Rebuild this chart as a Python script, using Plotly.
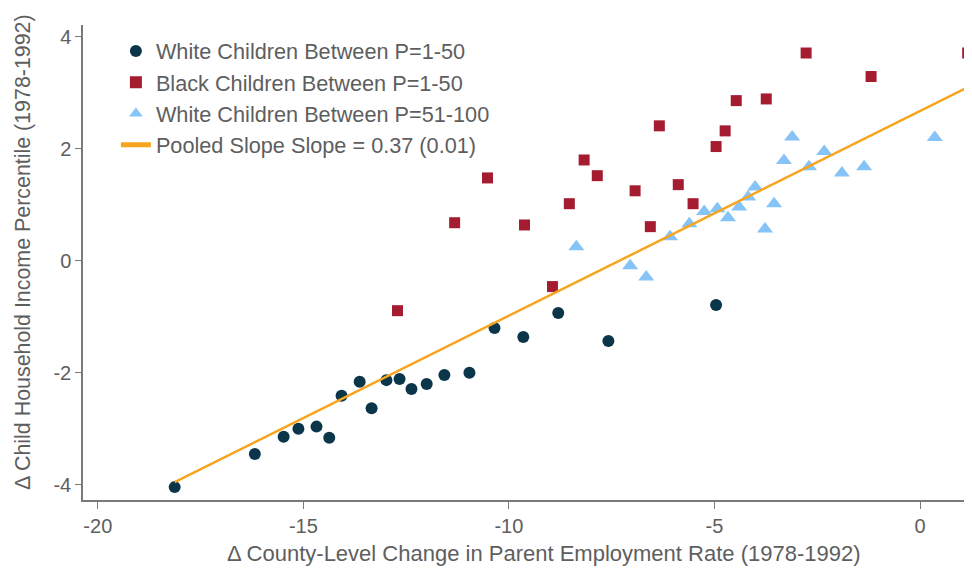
import plotly.graph_objects as go

# White children P=1-50
white_low_x = [-18.13, -16.18, -15.48, -15.12, -14.68, -14.37, -14.07, -13.63, -13.34, -12.98,
               -12.66, -12.37, -12.00, -11.57, -10.96, -10.35, -9.65, -8.80, -7.58, -4.96]
white_low_y = [-4.04, -3.45, -3.14, -3.00, -2.96, -3.16, -2.41, -2.16, -2.63, -2.13,
               -2.11, -2.29, -2.20, -2.04, -2.00, -1.20, -1.36, -0.93, -1.43, -0.79]

# Black children P=1-50
black_low_x = [-12.71, -11.32, -10.52, -9.62, -8.94, -8.53, -8.17, -7.85, -6.93, -6.56,
               -6.34, -5.88, -5.52, -4.96, -4.74, -4.47, -3.74, -2.77, -1.19, 1.16]
black_low_y = [-0.89, 0.68, 1.48, 0.64, -0.46, 1.02, 1.80, 1.52, 1.25, 0.61,
               2.41, 1.36, 1.02, 2.04, 2.32, 2.86, 2.89, 3.71, 3.29, 3.71]

# White children P=51-100
white_high_x = [-8.36, -7.05, -6.66, -6.08, -5.61, -5.25, -4.93, -4.67, -4.40, -4.18,
                -4.01, -3.77, -3.55, -3.31, -3.11, -2.70, -2.33, -1.90, -1.36, 0.36]
white_high_y = [0.25, -0.09, -0.29, 0.43, 0.66, 0.88, 0.93, 0.77, 0.96, 1.14,
                1.32, 0.57, 1.02, 1.79, 2.21, 1.68, 1.95, 1.57, 1.68, 2.20]

# Pooled fit line
fit_x = [-18.13, 1.14]
fit_y = [-3.95, 3.09]

x_ticks = [-20, -15, -10, -5, 0]
x_tick_labels = ["-20", "-15", "-10", "-5", "0"]
y_ticks = [-4, -2, 0, 2, 4]
y_tick_labels = ["-4", "-2", "0", "2", "4"]

x_title = "Δ County-Level Change in Parent Employment Rate (1978-1992)"
y_title = "Δ Child Household Income Percentile (1978-1992)"

NAVY = "#0b3649"
RED = "#a51c30"
LBLUE = "#86c4f7"
ORANGE = "#f7a51f"
GRAY = "#5e5e5e"
AXIS = "#7a7a7a"
FONT = "Liberation Sans, Arial, Helvetica, sans-serif"

fig = go.Figure()
fig.add_trace(go.Scatter(x=white_low_x, y=white_low_y, mode="markers",
                         name="White Children Between P=1-50",
                         marker=dict(symbol="circle", size=12, color=NAVY)))
fig.add_trace(go.Scatter(x=black_low_x, y=black_low_y, mode="markers",
                         name="Black Children Between P=1-50",
                         marker=dict(symbol="square", size=11, color=RED)))
fig.add_trace(go.Scatter(x=white_high_x, y=white_high_y, mode="markers",
                         name="White Children Between P=51-100",
                         marker=dict(symbol="triangle-up", size=14, color=LBLUE)))
fig.add_trace(go.Scatter(x=fit_x, y=fit_y, mode="lines",
                         name="Pooled Slope Slope = 0.37 (0.01)",
                         line=dict(color=ORANGE, width=2.5)))

# page body has an 8px margin, so the figure is sized/offset to compensate
fig.update_layout(
    width=964, height=563,
    margin=dict(l=75, r=0, t=17, b=71),
    paper_bgcolor="white", plot_bgcolor="white",
    font=dict(family=FONT, color=GRAY, size=20),
    showlegend=True,
    legend=dict(x=0.037, y=0.9886, xanchor="left", yanchor="top",
                bgcolor="rgba(0,0,0,0)", font=dict(size=21.7, color=GRAY),
                itemsizing="constant", tracegroupgap=0),
    annotations=[
        dict(text=x_title, xref="paper", yref="paper", x=0.5186, y=-0.1116,
             xanchor="center", yanchor="middle", showarrow=False,
             font=dict(size=22, color=GRAY)),
        dict(text=y_title, xref="paper", yref="paper", x=-0.0675, y=0.522,
             xanchor="center", yanchor="middle", showarrow=False, textangle=-90,
             font=dict(size=21.4, color=GRAY)),
    ],
)
fig.update_xaxes(range=[-20.36, 1.265], tickvals=x_ticks, ticktext=x_tick_labels,
                 ticks="outside", ticklen=7, automargin=False,
                 tickcolor=AXIS, tickwidth=1.2, showline=True, linecolor=AXIS, linewidth=1.5,
                 showgrid=False, zeroline=False, tickfont=dict(size=20, color=GRAY))
fig.update_yaxes(range=[-4.27, 4.21], tickvals=y_ticks, ticktext=y_tick_labels,
                 ticks="outside", ticklen=6, automargin=False,
                 tickcolor=AXIS, tickwidth=1.2, showline=True, linecolor=AXIS, linewidth=1.5,
                 showgrid=False, zeroline=False, tickfont=dict(size=20, color=GRAY))
fig.update_traces(cliponaxis=False)

fig.write_html("out.html")
